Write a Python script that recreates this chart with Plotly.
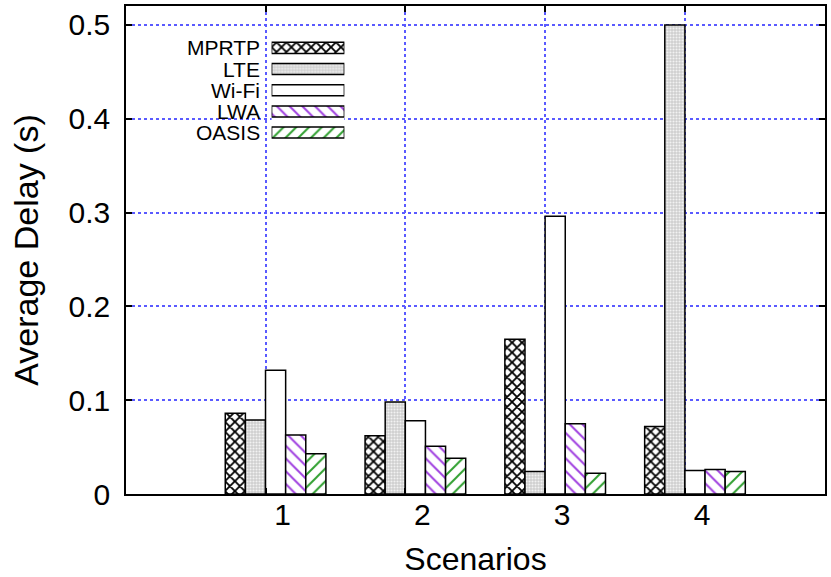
import plotly.graph_objects as go

scenarios = [1, 2, 3, 4]
series_names = ["MPRTP", "LTE", "Wi-Fi", "LWA", "OASIS"]
mprtp = [0.086, 0.062, 0.165, 0.072]
lte = [0.079, 0.098, 0.024, 0.500]
wifi = [0.132, 0.078, 0.296, 0.025]
lwa = [0.063, 0.051, 0.075, 0.026]
oasis = [0.043, 0.038, 0.022, 0.024]
series_values = [mprtp, lte, wifi, lwa, oasis]
y_ticks = [0, 0.1, 0.2, 0.3, 0.4, 0.5]
y_ticklabels = ["0", "0.1", "0.2", "0.3", "0.4", "0.5"]

styles = [
    dict(color="white", shape="x", fg="black", size=7, sol=0.45),
    dict(color="#cfcfcf", shape=".", fg="#f2f2f2", size=3, sol=0.4),
    dict(color="white", shape="", fg="black", size=8, sol=0.2),
    dict(color="white", shape="\\", fg="#a040e0", size=9, sol=0.22),
    dict(color="white", shape="/", fg="#30a030", size=9, sol=0.22),
]

FONT = "Liberation Sans, Arial, Helvetica, sans-serif"
fig = go.Figure()


def marker_for(st):
    return dict(color=st["color"],
                line=dict(color="black", width=1.5),
                pattern=dict(shape=st["shape"], fgcolor=st["fg"], bgcolor=st["color"],
                             size=st["size"], solidity=st["sol"], fillmode="replace"))


for name, vals, st in zip(series_names, series_values, styles):
    fig.add_trace(go.Bar(
        x=scenarios, y=vals, name=name, showlegend=False,
        marker=marker_for(st), xaxis="x", yaxis="y",
    ))

# custom legend: samples drawn as horizontal bars in a small inset axis
for i, (name, st) in enumerate(zip(series_names, styles)):
    fig.add_trace(go.Bar(
        y=[i], x=[1], orientation="h", width=0.52, offset=-0.26,
        showlegend=False, hoverinfo="skip",
        marker=marker_for(st), xaxis="x3", yaxis="y3",
    ))

grid_offset = -0.071
label_offset = 0.05
xrange = [-0.070, 4.930]

fig.update_layout(
    width=831, height=577,
    margin=dict(l=126, r=4, t=6, b=82),
    paper_bgcolor="white", plot_bgcolor="white",
    barmode="group", bargap=0.28, bargroupgap=0,
    font=dict(family=FONT, color="black", size=30),
    xaxis=dict(range=xrange, tickvals=[s + grid_offset for s in scenarios],
               ticktext=[""] * 4, showgrid=True, gridcolor="#5a5aff", griddash="dot",
               gridwidth=1.5, ticks="inside", ticklen=6, tickcolor="black", tickwidth=1.5,
               mirror="ticks", showline=True, linecolor="black", linewidth=1.5,
               zeroline=False, fixedrange=True),
    xaxis2=dict(range=xrange, overlaying="x", side="bottom",
                tickvals=[s + label_offset for s in scenarios],
                ticktext=[str(s) for s in scenarios], showgrid=False, ticks="",
                showline=False, zeroline=False, tickfont=dict(size=30),
                title=dict(text="Scenarios", font=dict(size=32), standoff=20)),
    yaxis=dict(range=[0, 0.5202], tickvals=y_ticks, ticktext=y_ticklabels,
               showgrid=True, gridcolor="#5a5aff", griddash="dot", gridwidth=1.5,
               ticks="inside", ticklen=6, tickcolor="black", tickwidth=1.5,
               mirror="ticks", showline=True, linecolor="black", linewidth=1.5,
               zeroline=False, tickfont=dict(size=30), ticklabelstandoff=8,
               title=dict(text="Average Delay (s)", font=dict(size=34), standoff=20)),
    xaxis3=dict(domain=[0.2083, 0.3124], range=[0, 1], visible=False, fixedrange=True),
    yaxis3=dict(domain=[0.7189, 0.9359], range=[4.5, -0.5], visible=False,
                anchor="x3", fixedrange=True),
)

# legend labels, right-aligned next to the samples
for i, name in enumerate(series_names):
    fig.add_annotation(xref="x3", yref="y3", x=0, y=i, text=name, showarrow=False,
                       xanchor="right", yanchor="middle", xshift=-10,
                       font=dict(size=21, family=FONT, color="black"))

# xaxis2 only carries the tick labels
fig.add_trace(go.Scatter(x=[xrange[0]], y=[None], xaxis="x2", yaxis="y",
                         showlegend=False, hoverinfo="skip"))

fig.write_html("out.html")
